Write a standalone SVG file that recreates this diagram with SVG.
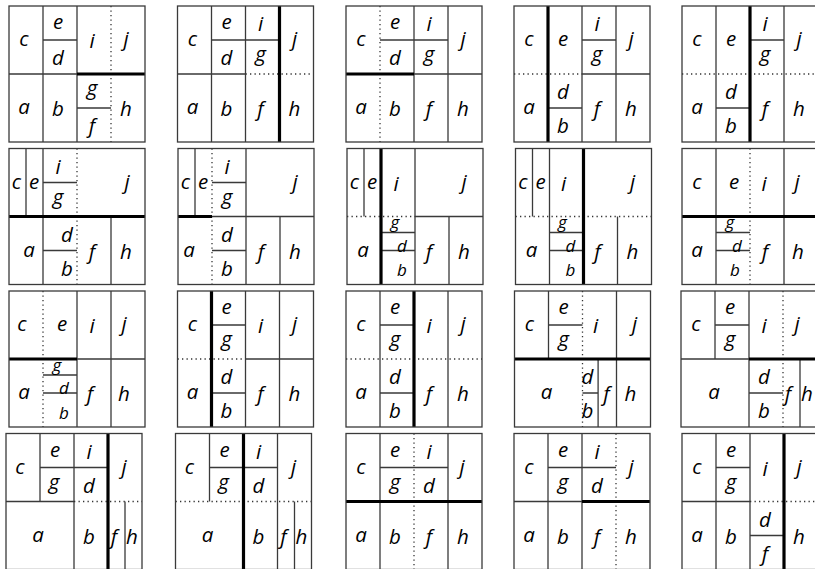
<svg xmlns="http://www.w3.org/2000/svg" width="815" height="569" viewBox="0 0 815 569">
<style>
.bd{fill:none;stroke:#3a3a3a;stroke-width:1.3}
.ln{fill:none;stroke:#3a3a3a;stroke-width:1.3}
.dt{fill:none;stroke:#333;stroke-width:1.3;stroke-dasharray:1.3 3.2}
.tk{fill:none;stroke:#000;stroke-width:3.2}
text{font-family:"Open Sans","Noto Sans",sans-serif;font-style:italic;font-size:20.5px;text-anchor:middle;fill:#000}
text.sm{font-size:17px}
</style>
<rect width="815" height="569" fill="#fff"/>
<g id="p1" transform="translate(9,6)">
<path class="ln" d="M34 0V136M68 0V136M0 68H68M34 34H68M68 102H102"/>
<path class="dt" d="M102 0V136"/>
<path class="tk" d="M68 68H136"/>
<rect class="bd" width="136" height="136"/>
<text x="15" y="40">c</text><text x="49" y="23">e</text><text x="49" y="59">d</text><text x="83" y="42">i</text><text x="117" y="40">j</text><text x="15" y="108">a</text><text x="49" y="110">b</text><text x="83" y="89">g</text><text x="83" y="127">f</text><text x="117" y="110">h</text>
</g>
<g id="p2" transform="translate(177.5,6)">
<path class="ln" d="M34 0V136M68 0V136M34 34H102M0 68H68"/>
<path class="dt" d="M68 68H136"/>
<path class="tk" d="M102 0V136"/>
<rect class="bd" width="136" height="136"/>
<text x="15" y="40">c</text><text x="49" y="23">e</text><text x="49" y="59">d</text><text x="83" y="25">i</text><text x="83" y="55">g</text><text x="117" y="40">j</text><text x="15" y="108">a</text><text x="49" y="110">b</text><text x="83" y="110">f</text><text x="117" y="110">h</text>
</g>
<g id="p3" transform="translate(346,6)">
<path class="ln" d="M68 0V136M102 0V136M34 34H102M68 68H136"/>
<path class="dt" d="M34 0V136"/>
<path class="tk" d="M0 68H68"/>
<rect class="bd" width="136" height="136"/>
<text x="15" y="40">c</text><text x="49" y="23">e</text><text x="49" y="59">d</text><text x="83" y="25">i</text><text x="83" y="55">g</text><text x="117" y="40">j</text><text x="15" y="108">a</text><text x="49" y="110">b</text><text x="83" y="110">f</text><text x="117" y="110">h</text>
</g>
<g id="p4" transform="translate(514,6)">
<path class="ln" d="M68 0V136M102 0V136M68 68H136M68 34H102M34 102H68"/>
<path class="dt" d="M0 68H68"/>
<path class="tk" d="M34 0V136"/>
<rect class="bd" width="136" height="136"/>
<text x="15" y="40">c</text><text x="49" y="40">e</text><text x="83" y="25">i</text><text x="83" y="55">g</text><text x="117" y="40">j</text><text x="15" y="108">a</text><text x="49" y="93">d</text><text x="49" y="127">b</text><text x="83" y="110">f</text><text x="117" y="110">h</text>
</g>
<g id="p5" transform="translate(682,6)">
<path class="ln" d="M34 0V136M102 0V136M68 34H102M34 102H68"/>
<path class="dt" d="M0 68H136"/>
<path class="tk" d="M68 0V136"/>
<rect class="bd" width="136" height="136"/>
<text x="15" y="40">c</text><text x="49" y="40">e</text><text x="83" y="25">i</text><text x="83" y="55">g</text><text x="117" y="40">j</text><text x="15" y="108">a</text><text x="49" y="93">d</text><text x="49" y="127">b</text><text x="83" y="110">f</text><text x="117" y="110">h</text>
</g>
<g id="p6" transform="translate(9,148.5)">
<path class="ln" d="M17 0V68M34 0V136M102 68V136M34 34H68M34 102H68"/>
<path class="dt" d="M68 0V136"/>
<path class="tk" d="M0 68H136"/>
<rect class="bd" width="136" height="136"/>
<text x="7.5" y="40">c</text><text x="25" y="40">e</text><text x="49" y="25">i</text><text x="49" y="55">g</text><text x="118" y="40">j</text><text x="20" y="108">a</text><text x="58" y="93">d</text><text x="58" y="127">b</text><text x="83" y="110">f</text><text x="117" y="110">h</text>
</g>
<g id="p7" transform="translate(178,148.5)">
<path class="ln" d="M17 0V68M68 0V136M102 68V136M34 34H68M34 68H136M34 102H68"/>
<path class="dt" d="M34 0V136"/>
<path class="tk" d="M0 68H34"/>
<rect class="bd" width="136" height="136"/>
<text x="7.5" y="40">c</text><text x="25" y="40">e</text><text x="49" y="25">i</text><text x="49" y="55">g</text><text x="117" y="40">j</text><text x="11" y="108">a</text><text x="49" y="93">d</text><text x="49" y="127">b</text><text x="83" y="110">f</text><text x="117" y="110">h</text>
</g>
<g id="p8" transform="translate(347,148.5)">
<path class="ln" d="M17 0V68M68 0V136M102 68V136M68 68H136M34 84H68M34 102H68"/>
<path class="dt" d="M0 68H68"/>
<path class="tk" d="M34 0V136"/>
<rect class="bd" width="136" height="136"/>
<text x="7.5" y="40">c</text><text x="25" y="40">e</text><text x="49" y="42">i</text><text x="117" y="40">j</text><text x="16" y="108">a</text><text class="sm" x="48" y="79.5">g</text><text class="sm" x="55" y="103">d</text><text class="sm" x="55" y="127.5">b</text><text x="82" y="110">f</text><text x="117" y="110">h</text>
</g>
<g id="p9" transform="translate(515.5,148.5)">
<path class="ln" d="M17 0V68M34 0V136M102 68V136M34 84H68M34 102H68"/>
<path class="dt" d="M0 68H136"/>
<path class="tk" d="M68 0V136"/>
<rect class="bd" width="136" height="136"/>
<text x="7.5" y="40">c</text><text x="25" y="40">e</text><text x="48" y="42">i</text><text x="117" y="40">j</text><text x="16" y="108">a</text><text class="sm" x="47" y="79.5">g</text><text class="sm" x="55" y="103">d</text><text class="sm" x="55" y="127.5">b</text><text x="82" y="110">f</text><text x="117" y="110">h</text>
</g>
<g id="p10" transform="translate(682,148.5)">
<path class="ln" d="M34 0V136M102 0V136M34 84H68M34 102H68"/>
<path class="dt" d="M68 0V136"/>
<path class="tk" d="M0 68H136"/>
<rect class="bd" width="136" height="136"/>
<text x="15" y="40">c</text><text x="52" y="40">e</text><text x="82" y="42">i</text><text x="115" y="40">j</text><text x="15" y="108">a</text><text class="sm" x="48" y="79.5">g</text><text class="sm" x="55" y="103">d</text><text class="sm" x="53" y="127.5">b</text><text x="83" y="110">f</text><text x="116" y="110">h</text>
</g>
<g id="p11" transform="translate(9,291)">
<path class="ln" d="M68 0V136M102 0V136M68 68H136M34 84H68M34 102H68"/>
<path class="dt" d="M34 0V136"/>
<path class="tk" d="M0 68H68"/>
<rect class="bd" width="136" height="136"/>
<text x="13" y="40">c</text><text x="53" y="40">e</text><text x="83" y="42">i</text><text x="115" y="40">j</text><text x="15" y="108">a</text><text class="sm" x="48" y="79.5">g</text><text class="sm" x="55" y="103">d</text><text class="sm" x="55" y="127.5">b</text><text x="81" y="110">f</text><text x="115" y="110">h</text>
</g>
<g id="p12" transform="translate(177.5,291)">
<path class="ln" d="M68 0V136M102 0V136M68 68H136M34 34H68M34 102H68"/>
<path class="dt" d="M0 68H68"/>
<path class="tk" d="M34 0V136"/>
<rect class="bd" width="136" height="136"/>
<text x="15" y="40">c</text><text x="49" y="23">e</text><text x="49" y="55">g</text><text x="83" y="42">i</text><text x="117" y="40">j</text><text x="15" y="108">a</text><text x="49" y="93">d</text><text x="49" y="127">b</text><text x="83" y="110">f</text><text x="117" y="110">h</text>
</g>
<g id="p13" transform="translate(346,291)">
<path class="ln" d="M34 0V136M102 0V136M34 34H68M34 102H68"/>
<path class="dt" d="M0 68H136"/>
<path class="tk" d="M68 0V136"/>
<rect class="bd" width="136" height="136"/>
<text x="15" y="40">c</text><text x="49" y="23">e</text><text x="49" y="55">g</text><text x="83" y="42">i</text><text x="117" y="40">j</text><text x="15" y="108">a</text><text x="49" y="93">d</text><text x="49" y="127">b</text><text x="83" y="110">f</text><text x="117" y="110">h</text>
</g>
<g id="p14" transform="translate(514.5,291)">
<path class="ln" d="M34 0V68M83.6 68V136M102 0V136M34 34H68M68 102H83.6"/>
<path class="dt" d="M68 0V136"/>
<path class="tk" d="M0 68H136"/>
<rect class="bd" width="136" height="136"/>
<text x="15" y="40">c</text><text x="49" y="23">e</text><text x="49" y="55">g</text><text x="81" y="42">i</text><text x="120" y="40">j</text><text x="32" y="108">a</text><text x="73" y="93">d</text><text x="73" y="127">b</text><text x="92" y="110">f</text><text x="116" y="110">h</text>
</g>
<g id="p15" transform="translate(681,291)">
<path class="ln" d="M34 0V68M68 0V136M119 68V136M34 34H68M0 68H68M68 102H102"/>
<path class="dt" d="M102 0V136"/>
<path class="tk" d="M68 68H136"/>
<rect class="bd" width="136" height="136"/>
<text x="15" y="40">c</text><text x="49" y="23">e</text><text x="49" y="55">g</text><text x="83" y="42">i</text><text x="116" y="40">j</text><text x="33" y="108">a</text><text x="83" y="93">d</text><text x="83" y="127">b</text><text x="107" y="110">f</text><text x="126" y="110">h</text>
</g>
<g id="p16" transform="translate(6,433.5)">
<path class="ln" d="M34 0V68M68 0V136M119 68V136M34 34H102M0 68H68"/>
<path class="dt" d="M68 68H136"/>
<path class="tk" d="M102 0V136"/>
<rect class="bd" width="136" height="136"/>
<text x="14" y="40">c</text><text x="49" y="23">e</text><text x="48" y="55">g</text><text x="83" y="25">i</text><text x="83" y="59">d</text><text x="118" y="40">j</text><text x="32" y="108">a</text><text x="83" y="110">b</text><text x="108" y="110">f</text><text x="126" y="110">h</text>
</g>
<g id="p17" transform="translate(175.5,433.5)">
<path class="ln" d="M34 0V68M102 0V136M119 68V136M34 34H102"/>
<path class="dt" d="M0 68H136"/>
<path class="tk" d="M68 0V136"/>
<rect class="bd" width="136" height="136"/>
<text x="14" y="40">c</text><text x="49" y="23">e</text><text x="48" y="55">g</text><text x="83" y="25">i</text><text x="83" y="59">d</text><text x="118" y="40">j</text><text x="32" y="108">a</text><text x="83" y="110">b</text><text x="108" y="110">f</text><text x="126" y="110">h</text>
</g>
<g id="p18" transform="translate(346,433.5)">
<path class="ln" d="M34 0V136M102 0V136M34 34H102"/>
<path class="dt" d="M68 0V136"/>
<path class="tk" d="M0 68H136"/>
<rect class="bd" width="136" height="136"/>
<text x="15" y="40">c</text><text x="49" y="23">e</text><text x="83" y="25">i</text><text x="49" y="55">g</text><text x="83" y="59">d</text><text x="116" y="40">j</text><text x="15" y="108">a</text><text x="49" y="110">b</text><text x="83" y="110">f</text><text x="117" y="110">h</text>
</g>
<g id="p19" transform="translate(514,433.5)">
<path class="ln" d="M34 0V136M68 0V136M34 34H102M0 68H68"/>
<path class="dt" d="M102 0V136"/>
<path class="tk" d="M68 68H136"/>
<rect class="bd" width="136" height="136"/>
<text x="15" y="40">c</text><text x="49" y="23">e</text><text x="83" y="25">i</text><text x="49" y="55">g</text><text x="83" y="59">d</text><text x="117" y="40">j</text><text x="15" y="108">a</text><text x="49" y="110">b</text><text x="83" y="110">f</text><text x="117" y="110">h</text>
</g>
<g id="p20" transform="translate(682,433.5)">
<path class="ln" d="M34 0V136M68 0V136M34 34H68M0 68H68M68 102H102"/>
<path class="dt" d="M68 68H136"/>
<path class="tk" d="M102 0V136"/>
<rect class="bd" width="136" height="136"/>
<text x="15" y="40">c</text><text x="49" y="23">e</text><text x="49" y="55">g</text><text x="83" y="42">i</text><text x="117" y="40">j</text><text x="15" y="108">a</text><text x="49" y="110">b</text><text x="83" y="93">d</text><text x="83" y="127">f</text><text x="117" y="110">h</text>
</g>
</svg>
